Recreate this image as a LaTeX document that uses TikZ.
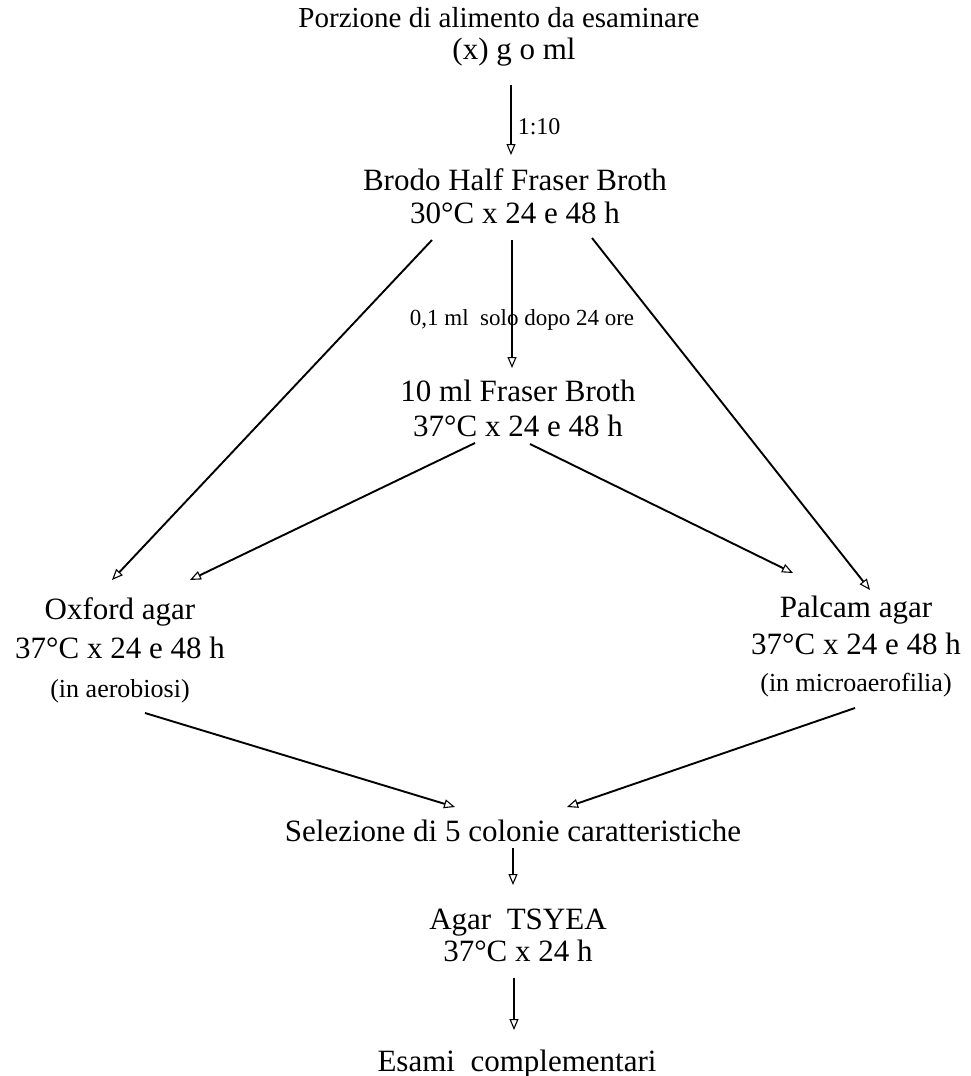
\documentclass[tikz,border=0pt]{standalone}
\usepackage{fontspec}
\setmainfont{Liberation Serif}
\usetikzlibrary{calc,arrows.meta}
\begin{document}
\begin{tikzpicture}[x=1pt,y=-1pt,
  box/.style={inner sep=0pt,align=center,font=\fontsize{31}{33}\selectfont},
  lbl/.style={inner sep=0pt,font=\fontsize{22}{24}\selectfont},
  arr/.style={line width=1.5pt,-{Triangle[open,length=11pt,width=9pt,line width=1.1pt]}},
  diag/.style={arr,line width=1.9pt}]
\path[use as bounding box,fill=white] (0,0) rectangle (970,1076);
\node[box,font=\fontsize{29}{32}\selectfont] (top) at (499,37) {Porzione di alimento da esaminare\\\hspace*{30pt}{\fontsize{31}{33}\selectfont(x) g o ml}};
\node[box] (brodo) at (515,196) {Brodo Half Fraser Broth\\30°C x 24 e 48 h};
\node[box,font=\fontsize{31}{35}\selectfont] (fraser) at (518,408) {10 ml Fraser Broth\\37°C x 24 e 48 h};
\node[box,font=\fontsize{31}{39}\selectfont] (oxford) at (120,650) {Oxford agar\\37°C x 24 e 48 h\\{\fontsize{26}{28}\selectfont (in aerobiosi)}};
\node[box,font=\fontsize{31}{37}\selectfont] (palcam) at (856,647) {Palcam agar\\37°C x 24 e 48 h\\{\fontsize{26}{28}\selectfont (in microaerofilia)}};
\node[box] (sel) at (513,831) {Selezione di 5 colonie caratteristiche};
\node[box,font=\fontsize{31}{32}\selectfont] (tsyea) at (518,935) {Agar\ \ TSYEA\\37°C x 24 h};
\node[box] (esami) at (517,1064) {Esami\ \ complementari};
% connectors
\draw[arr] ($(top)+(12,48)$) -- ($(brodo)+(-4,-41)$) node[lbl,pos=0.6,right=6pt,font=\fontsize{24}{26}\selectfont] (l1) {1:10};
\draw[diag] ($(brodo)+(-83,44)$) -- ($(oxford)+(-8,-70)$);
\draw[diag] ($(brodo)+(77,42)$) -- ($(palcam)+(14,-57)$);
\draw[arr] ($(brodo)+(-3,44)$) -- ($(fraser)+(-6,-40)$);
\node[lbl,font=\fontsize{23}{25}\selectfont] (l2) at (522,320) {0,1 ml\ \ solo dopo 24 ore};
\draw[diag] ($(fraser)+(-43,35)$) -- ($(oxford)+(70,-70)$);
\draw[diag] ($(fraser)+(12,36)$) -- ($(palcam)+(-63,-74)$);
\draw[diag] ($(oxford)+(25,63)$) -- ($(sel)+(-58,-24)$);
\draw[diag] ($(palcam)+(-1,61)$) -- ($(sel)+(54,-24)$);
\draw[arr] ($(sel)+(0,17)$) -- ($(tsyea)+(-5,-50)$);
\draw[arr] ($(tsyea)+(-4,43)$) -- ($(esami)+(-3,-34)$);
\end{tikzpicture}
\end{document}
